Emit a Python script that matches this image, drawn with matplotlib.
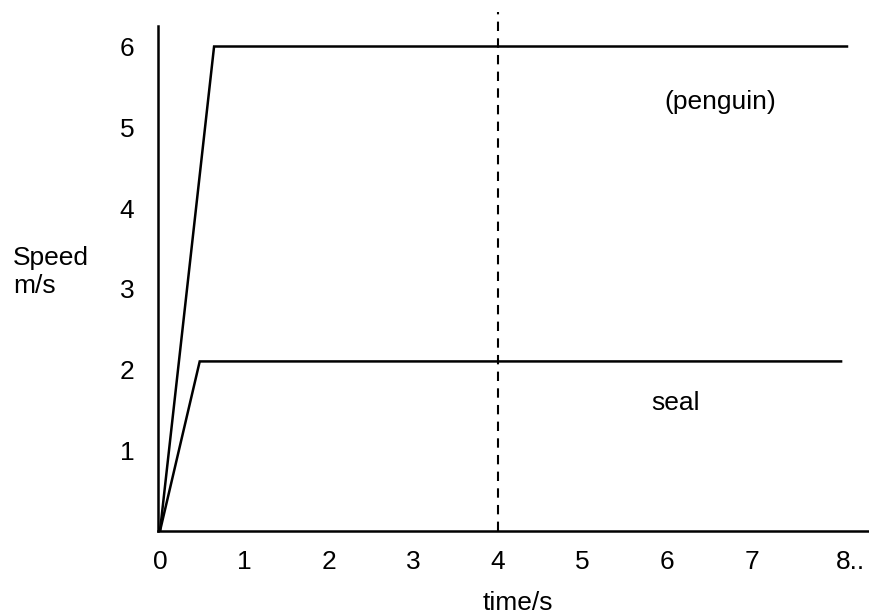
"""Speed-time sketch: penguin vs seal, with a dashed marker at t = 4 s."""
import matplotlib
matplotlib.use("Agg")
import matplotlib.pyplot as plt

plt.rcParams["font.family"] = ["Liberation Sans", "DejaVu Sans"]

# data
penguin_t = [0.0, 0.64, 8.13]
penguin_v = [0.0, 6.0, 6.0]
seal_t = [0.0, 0.47, 8.06]
seal_v = [0.0, 2.1, 2.1]
marker_t = 4.0
x_ticks = [0, 1, 2, 3, 4, 5, 6, 7, 8]
x_labels = ["0", "1", "2", "3", "4", "5", "6", "7", "8.."]
y_ticks = [1, 2, 3, 4, 5, 6]
y_labels = ["1", "2", "3", "4", "5", "6"]

W, H = 869, 615
FS = 19

fig = plt.figure(figsize=(W / 100, H / 100), dpi=100)
# axes box in pixels: left 158, right 869, bottom 531, top 12
ax = fig.add_axes([158 / W, (H - 531) / H, (W - 158) / W, (531 - 12) / H])
ax.set_xlim(-2 / 84.5, (W - 160) / 84.5)
ax.set_ylim(0, (531 - 12) / 80.75)

ax.plot(penguin_t, penguin_v, color="black", lw=1.8, solid_joinstyle="miter")
ax.plot(seal_t, seal_v, color="black", lw=1.8, solid_joinstyle="miter")
ax.axvline(marker_t, color="black", lw=1.5, linestyle=(0, (4.5, 3.5)))

ax.text(6.63, 5.31, "(penguin)", fontsize=FS, ha="center", va="center")
ax.text(6.1, 1.585, "seal", fontsize=FS, ha="center", va="center")

for s in ("top", "right"):
    ax.spines[s].set_visible(False)
for s in ("left", "bottom"):
    ax.spines[s].set_linewidth(1.8)
ax.spines["left"].set_bounds(0, (531 - 26) / 80.75)

ax.set_xticks(x_ticks, x_labels)
ax.set_yticks(y_ticks, y_labels)
ax.tick_params(axis="both", length=0, labelsize=FS)
ax.tick_params(axis="x", pad=14)
ax.tick_params(axis="y", pad=17)
# the trailing "8.." starts at its tick rather than centring on it
ax.get_xticklabels()[-1].set_horizontalalignment("left")

fig.text(13 / W, 1 - 272 / H, "Speed\nm/s", fontsize=FS, ha="left", va="center")
fig.text(518 / W, 1 - 603 / H, "time/s", fontsize=FS, ha="center", va="center")

fig.savefig("out.png", dpi=100)
